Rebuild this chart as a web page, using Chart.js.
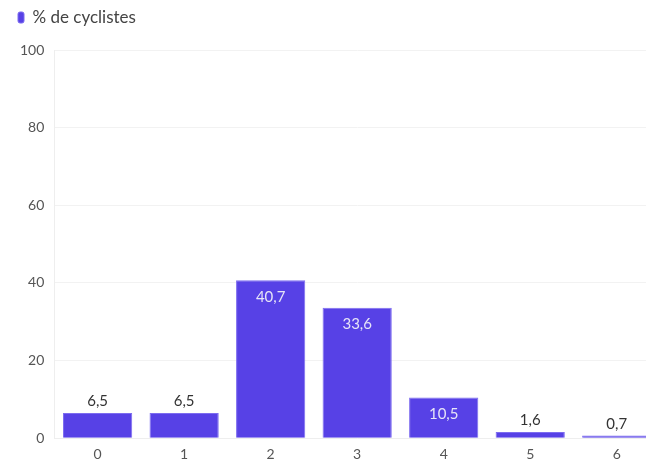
<!DOCTYPE html>
<html><head><meta charset="utf-8">
<script src="https://cdn.jsdelivr.net/npm/chart.js@4/dist/chart.umd.min.js"></script>
<style>
html,body{margin:0;padding:0;overflow:hidden;background:#fff;width:646px;height:464px}
#wrap{position:absolute;left:0;top:0;width:660px;height:464px}
</style></head><body>
<div id="wrap"><canvas id="c"></canvas></div>
<script>
const categories = ["0","1","2","3","4","5","6"];
const seriesName = "% de cyclistes";
const values = [6.5, 6.5, 40.7, 33.6, 10.5, 1.6, 0.7];
const yTicks = [0, 20, 40, 60, 80, 100];

const FONT = "Lato, 'Noto Sans', sans-serif";
const fmt = v => String(v).replace('.', ',');

const legendSpace = {
  id: 'legendSpace',
  beforeInit(chart) {
    const lg = chart.legend;
    const orig = lg.fit;
    lg.fit = function () { orig.call(this); this.height += 14; };
  }
};

const labelPlugin = {
  id: 'barLabels',
  afterDatasetsDraw(chart) {
    const ctx = chart.ctx;
    const meta = chart.getDatasetMeta(0);
    ctx.save();
    ctx.font = "15px " + FONT;
    ctx.textAlign = 'center';
    meta.data.forEach((bar, i) => {
      const v = values[i];
      const inside = v >= 10;
      if (inside) {
        ctx.fillStyle = '#e6e4f7';
        ctx.textBaseline = 'top';
        ctx.fillText(fmt(v), bar.x, bar.y + 9);
      } else {
        ctx.fillStyle = '#333';
        ctx.textBaseline = 'bottom';
        ctx.fillText(fmt(v), bar.x, bar.y - 4);
      }
    });
    ctx.restore();
  }
};

new Chart(document.getElementById('c'), {
  type: 'bar',
  data: {
    labels: categories,
    datasets: [{
      label: seriesName,
      data: values,
      backgroundColor: '#5741e6',
      borderColor: '#7d6cf0',
      borderWidth: 1,
      categoryPercentage: 0.8,
      barPercentage: 1.0
    }]
  },
  options: {
    responsive: true,
    maintainAspectRatio: false,
    animation: false,
    layout: { padding: { left: 10, right: 0, top: 1, bottom: 1 } },
    plugins: {
      legend: {
        position: 'top', align: 'start',
        labels: {
          boxWidth: 6, boxHeight: 11, useBorderRadius: true, borderRadius: 2,
          color: '#444', font: { family: FONT, size: 17 }, padding: 8
        }
      },
      tooltip: { enabled: false }
    },
    scales: {
      x: {
        grid: { display: false },
        border: { display: true, color: '#eeeeee' },
        ticks: { color: '#555', font: { family: FONT, size: 14 }, padding: 0 }
      },
      y: {
        min: 0, max: 100,
        afterBuildTicks: s => { s.ticks = yTicks.map(v => ({ value: v })); },
        grid: { color: '#f2f2f2', drawTicks: false },
        border: { display: true, color: '#eeeeee' },
        ticks: { color: '#555', font: { family: FONT, size: 14 }, padding: 10 }
      }
    }
  },
  plugins: [legendSpace, labelPlugin]
});
</script>
</body></html>
